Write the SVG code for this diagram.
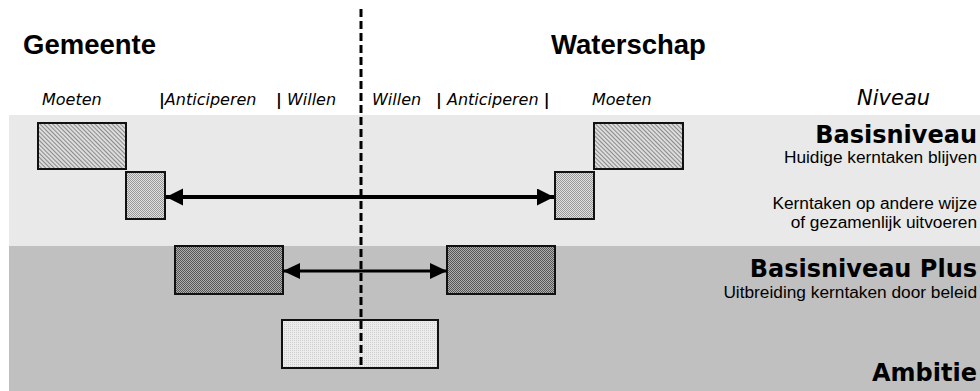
<svg xmlns="http://www.w3.org/2000/svg" width="980" height="391" viewBox="0 0 980 391">
<style>
.hdr{font-family:"Liberation Sans",Arial,sans-serif;font-weight:bold;font-size:27.5px;fill:#000}
.col{font-family:"DejaVu Sans",Verdana,sans-serif;font-style:italic;font-size:16px;fill:#000}
.bar{font-style:normal;font-weight:bold}
.lvl{font-family:"DejaVu Sans",Verdana,sans-serif;font-weight:bold;font-size:24px;fill:#000;text-anchor:end}
.sub{font-family:"Liberation Sans",Arial,sans-serif;font-size:17.3px;fill:#000;text-anchor:end}
.box{stroke:#111;stroke-width:2}
.conn{stroke:#000;fill:none}
</style>
<defs>
<pattern id="diag" width="3" height="3" patternUnits="userSpaceOnUse" patternTransform="rotate(-45)">
<rect width="3" height="3" fill="#dcdcdc"/>
<rect width="1" height="3" fill="#8a8a8a"/>
</pattern>
<pattern id="check" width="2" height="2" patternUnits="userSpaceOnUse">
<rect width="2" height="2" fill="#e0e0e0"/>
<rect width="1" height="1" fill="#999"/>
<rect x="1" y="1" width="1" height="1" fill="#999"/>
</pattern>
<pattern id="dark" width="2" height="2" patternUnits="userSpaceOnUse">
<rect width="2" height="2" fill="#b0b0b0"/>
<rect width="1" height="1" fill="#555"/>
<rect x="1" y="1" width="1" height="1" fill="#555"/>
</pattern>
<pattern id="dots" width="2" height="2" patternUnits="userSpaceOnUse">
<rect width="2" height="2" fill="#ececec"/>
<rect width="1" height="1" fill="#cfcfcf"/>
</pattern>
<marker id="ah" markerUnits="userSpaceOnUse" markerWidth="18" markerHeight="18" refX="17" refY="8.5" orient="auto-start-reverse">
<path d="M0,0 L17,8.5 L0,17 Z" fill="#000"/>
</marker>
<marker id="ah2" markerUnits="userSpaceOnUse" markerWidth="18" markerHeight="18" refX="17" refY="8" orient="auto-start-reverse">
<path d="M0,0 L17,8 L0,16 Z" fill="#000"/>
</marker>
</defs>

<g id="bands">
<rect x="9" y="115" width="971" height="131" fill="#e9e9e9"/>
<rect x="9" y="246" width="971" height="145" fill="#c0c0c0"/>
</g>

<g id="headers">
<text class="hdr" x="23" y="54">Gemeente</text>
<text class="hdr" x="551" y="54">Waterschap</text>
</g>

<g id="columns">
<text class="col" x="42" y="105">Moeten</text>
<text class="col" x="159" y="105"><tspan class="bar">|</tspan>Anticiperen</text>
<text class="col" x="276" y="105"><tspan class="bar">|</tspan> Willen</text>
<text class="col" x="372" y="105">Willen</text>
<text class="col" x="436" y="105"><tspan class="bar">|</tspan> Anticiperen <tspan class="bar">|</tspan></text>
<text class="col" x="592" y="105">Moeten</text>
<text class="col" x="857" y="105" style="font-size:21px">Niveau</text>
</g>

<g id="levels">
<text class="lvl" x="977" y="143">Basisniveau</text>
<text class="sub" x="977" y="163">Huidige kerntaken blijven</text>
<text class="sub" x="977" y="209">Kerntaken op andere wijze</text>
<text class="sub" x="977" y="228">of gezamenlijk uitvoeren</text>
<text class="lvl" x="977" y="277">Basisniveau Plus</text>
<text class="sub" x="977" y="298">Uitbreiding kerntaken door beleid</text>
<text class="lvl" x="977" y="381">Ambitie</text>
</g>

<g id="node-g-moeten"><rect class="box" x="38" y="123" width="88" height="46" fill="url(#diag)"/></g>
<g id="node-g-anticiperen"><rect class="box" x="126" y="172" width="39" height="47" fill="url(#check)"/></g>
<g id="node-w-moeten"><rect class="box" x="594" y="123" width="89" height="46" fill="url(#diag)"/></g>
<g id="node-w-anticiperen"><rect class="box" x="555" y="172" width="39" height="47" fill="url(#check)"/></g>
<g id="node-g-plus"><rect class="box" x="175" y="246" width="108" height="48" fill="url(#dark)"/></g>
<g id="node-w-plus"><rect class="box" x="447" y="246" width="108" height="48" fill="url(#dark)"/></g>
<g id="node-ambitie"><rect class="box" x="282" y="320" width="156" height="48" fill="url(#dots)"/></g>

<g id="connectors">
<line class="conn" x1="361" y1="9" x2="361" y2="369" stroke-width="3" stroke-dasharray="8 4"/>
<line class="conn" x1="166" y1="197" x2="554" y2="197" stroke-width="4" marker-start="url(#ah)" marker-end="url(#ah)"/>
<line class="conn" x1="283" y1="271" x2="447" y2="271" stroke-width="3" marker-start="url(#ah2)" marker-end="url(#ah2)"/>
</g>
</svg>
